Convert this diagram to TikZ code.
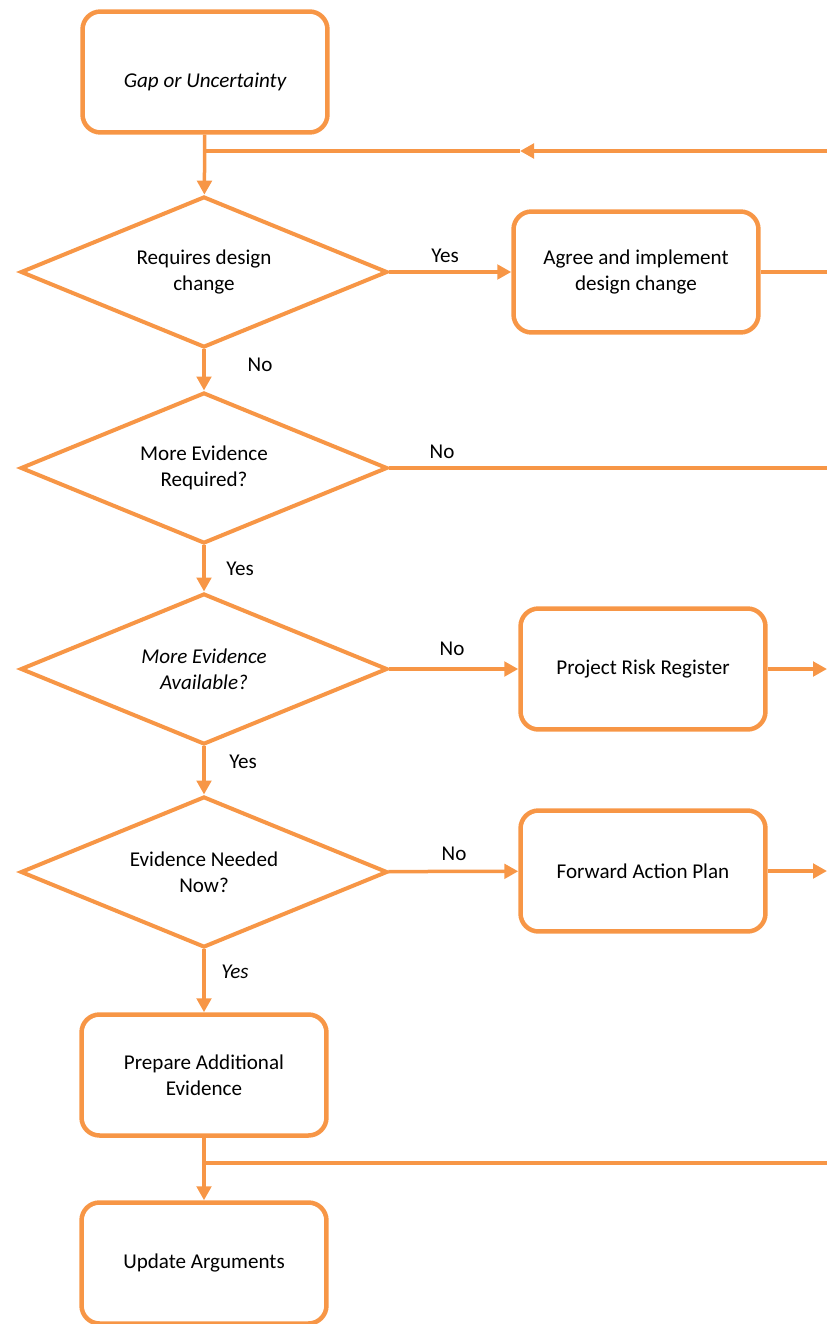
\documentclass[tikz,border=0pt]{standalone}
\usepackage{fontspec}
\setmainfont{Carlito}
\usetikzlibrary{shapes.geometric,arrows.meta}
\definecolor{flowOrange}{HTML}{F79646}
\begin{document}
\begin{tikzpicture}[x=0.02cm, y=-0.02cm, >={Triangle[length=0.28cm,width=0.29cm]},
    flowfont/.style={font=\fontsize{12}{14.7}\selectfont},
    flowbox/.style={flowfont, draw=flowOrange, line width=0.09cm, rounded corners=0.36cm,
        minimum width=4.9cm, minimum height=2.42cm, align=center},
    decision/.style={flowfont, draw=flowOrange, line width=0.08cm, diamond, shape aspect=2.43,
        inner sep=0pt, minimum width=7.34cm, minimum height=3.02cm, align=center},
    flowline/.style={draw=flowOrange, line width=0.07cm},
    answer/.style={flowfont}]
    \useasboundingbox (0,0) rectangle (827,1324);
    \clip (0,0) rectangle (827,1324);
    % boxes and decisions
    \node[flowbox, text height=0.7cm, text depth=0.08cm] (gap) at (205,72) {\itshape Gap or Uncertainty};
    \node[decision] (dchange) at (204,272) {Requires design\\change};
    \node[flowbox] (agree) at (636,272) {Agree and implement\\design change};
    \node[decision] (required) at (204,468) {More Evidence\\Required?};
    \node[decision] (available) at (204,669) {\itshape More Evidence\\\itshape Available?};
    \node[flowbox] (risk) at (643,669) {Project Risk Register};
    \node[decision] (now) at (204,872) {Evidence Needed\\Now?};
    \node[flowbox] (action) at (643,871) {Forward Action Plan};
    \node[flowbox] (prepare) at (204,1075) {Prepare Additional\\Evidence};
    \node[flowbox] (update) at (204,1263) {Update Arguments};
    % loose ends at the right border
    \coordinate (back) at (827,151);
    \coordinate (backmid) at (520,151);
    \coordinate (join) at (204,151);
    \coordinate (agreeout) at (827,272);
    \coordinate (reqout) at (827,468);
    \coordinate (riskout) at (827,669);
    \coordinate (actionout) at (827,871);
    \coordinate (split) at (204,1163);
    \coordinate (prepout) at (827,1163);
    % connectors
    \draw[flowline, ->] (gap) -- (dchange);
    \draw[flowline, ->] (back) -- (backmid);
    \draw[flowline] (backmid) -- (join);
    \draw[flowline, ->] (dchange) -- (agree);
    \draw[flowline] (agree) -- (agreeout);
    \draw[flowline, ->] (dchange) -- (required);
    \draw[flowline] (required) -- (reqout);
    \draw[flowline, ->] (required) -- (available);
    \draw[flowline, ->] (available) -- (risk);
    \draw[flowline, ->] (risk) -- (riskout);
    \draw[flowline, ->] (available) -- (now);
    \draw[flowline, ->] (now) -- (action);
    \draw[flowline, ->] (action) -- (actionout);
    \draw[flowline, ->] (now) -- (prepare);
    \draw[flowline, ->] (prepare) -- (update);
    \draw[flowline] (split) -- (prepout);
    % answers
    \node[answer] (yes1) at (445,256) {Yes};
    \node[answer] (no1) at (260,365) {No};
    \node[answer] (no2) at (442,452) {No};
    \node[answer] (yes2) at (240,569) {Yes};
    \node[answer] (no3) at (452,649) {No};
    \node[answer] (yes3) at (243,762) {Yes};
    \node[answer] (no4) at (454,854) {No};
    \node[answer] (yes4) at (235,972) {\itshape Yes};
\end{tikzpicture}
\end{document}
